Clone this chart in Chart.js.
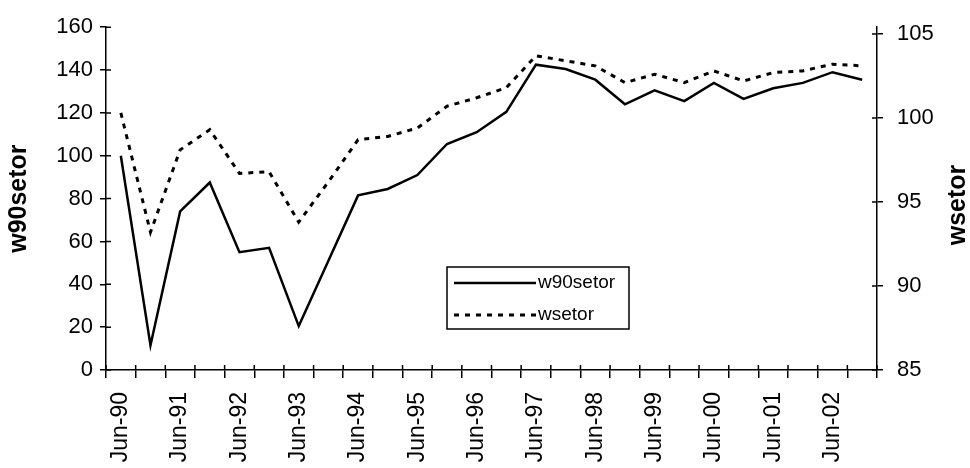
<!DOCTYPE html>
<html>
<head>
<meta charset="utf-8">
<script src="https://cdn.jsdelivr.net/npm/chart.js@4.4.1/dist/chart.umd.min.js"></script>
<style>
    body { margin: 0; background: #fff; }
    #wrap { width: 970px; height: 468px; }
</style>
</head>
<body>
<div id="wrap"><canvas id="setorChart" width="970" height="468"></canvas></div>
<script>
// half-yearly observations, Jun-90 .. Dec-02
const categories = [
    "Jun-90", "Dec-90", "Jun-91", "Dec-91", "Jun-92", "Dec-92", "Jun-93", "Dec-93",
    "Jun-94", "Dec-94", "Jun-95", "Dec-95", "Jun-96", "Dec-96", "Jun-97", "Dec-97",
    "Jun-98", "Dec-98", "Jun-99", "Dec-99", "Jun-00", "Dec-00", "Jun-01", "Dec-01",
    "Jun-02", "Dec-02"
];
const w90setor = [100, 11.5, 74, 87.5, 55, 57, 20.5, 51, 81.5, 84.5, 91, 105.5, 111,
    120.5, 142.5, 140.5, 135.5, 124, 130.5, 125.5, 134, 126.5, 131.5, 134, 139, 135.5];
const wsetor = [100.3, 93.2, 98.1, 99.3, 96.7, 96.8, 93.8, 96.2, 98.7, 98.9, 99.4, 100.7,
    101.2, 101.8, 103.7, 103.4, 103.1, 102.1, 102.6, 102.1, 102.8, 102.2, 102.7, 102.8,
    103.2, 103.1];

const leftMin = 0, leftMax = 160, leftStep = 20;
const rightMin = 85, rightMax = 105.4, rightStep = 5;

const FONT = "'Liberation Sans', Arial, sans-serif";

// Excel style cross ticks: Chart.js draws the outer half, this adds the inner half
const crossTicks = {
    id: 'crossTicks',
    afterDraw(chart) {
        const ctx = chart.ctx;
        const xs = chart.scales.x, yl = chart.scales.y, yr = chart.scales.y1;
        ctx.save();
        ctx.strokeStyle = '#000';
        ctx.lineWidth = 1.5;
        ctx.beginPath();
        yl.ticks.forEach(t => {
            const py = yl.getPixelForValue(t.value);
            ctx.moveTo(yl.right, py);
            ctx.lineTo(yl.right + 5, py);
        });
        yr.ticks.forEach(t => {
            const py = yr.getPixelForValue(t.value);
            ctx.moveTo(yr.left - 5, py);
            ctx.lineTo(yr.left, py);
        });
        const n = categories.length;
        const step = (xs.right - xs.left) / n;
        for (let i = 0; i <= n; i++) {
            const px = xs.left + i * step;
            ctx.moveTo(px, xs.top - 5);
            ctx.lineTo(px, xs.top);
        }
        ctx.stroke();
        ctx.restore();
    }
};

// boxed legend sitting inside the plot + right axis title reading upwards
const boxLegend = {
    id: 'boxLegend',
    afterDraw(chart) {
        const ctx = chart.ctx;
        ctx.save();
        ctx.strokeStyle = '#000';
        ctx.lineWidth = 1.5;
        ctx.strokeRect(447, 267, 182, 62);

        chart.data.datasets.forEach((ds, i) => {
            const y = 283 + i * 32;
            ctx.beginPath();
            ctx.lineWidth = ds.borderWidth;
            ctx.setLineDash(ds.borderDash || []);
            ctx.moveTo(454, y);
            ctx.lineTo(536, y);
            ctx.stroke();
            ctx.setLineDash([]);
            ctx.fillStyle = '#000';
            ctx.font = "19px " + FONT;
            ctx.textBaseline = 'middle';
            ctx.textAlign = 'left';
            ctx.fillText(ds.label, 538, y);
        });

        ctx.translate(958, 205);
        ctx.rotate(-Math.PI / 2);
        ctx.font = "bold 25px " + FONT;
        ctx.textAlign = 'center';
        ctx.textBaseline = 'middle';
        ctx.fillText('wsetor', 0, 0);
        ctx.restore();
    }
};

const ctx = document.getElementById('setorChart').getContext('2d');
const setorChart = new Chart(ctx, {
    type: 'line',
    data: {
        labels: categories,
        datasets: [{
            label: 'w90setor',
            data: w90setor,
            yAxisID: 'y',
            borderColor: '#000',
            borderWidth: 2.5,
            pointRadius: 0,
            tension: 0,
            fill: false
        }, {
            label: 'wsetor',
            data: wsetor,
            yAxisID: 'y1',
            borderColor: '#000',
            borderWidth: 3,
            borderDash: [5, 6],
            pointRadius: 0,
            tension: 0,
            fill: false
        }]
    },
    options: {
        responsive: false,
        animation: false,
        layout: { padding: { top: 24, left: 0, right: 0, bottom: 0 } },
        plugins: {
            legend: { display: false },
            tooltip: { enabled: false }
        },
        scales: {
            x: {
                offset: true,
                grid: { offset: true, drawOnChartArea: false, color: '#000', lineWidth: 1.5, tickLength: 8 },
                border: { color: '#000', width: 1.5 },
                ticks: {
                    autoSkip: false,
                    maxRotation: 90,
                    minRotation: 90,
                    padding: 14,
                    color: '#000',
                    font: { family: FONT, size: 23 },
                    callback: (val, i) => (i % 2 === 0 ? categories[i] : '')
                },
                afterFit: scale => { scale.height = 98; }
            },
            y: {
                position: 'left',
                min: leftMin,
                max: leftMax,
                grid: { drawOnChartArea: false, color: '#000', lineWidth: 1.5, tickLength: 6 },
                border: { color: '#000', width: 1.5 },
                ticks: {
                    stepSize: leftStep,
                    padding: 7,
                    color: '#000',
                    font: { family: FONT, size: 22 }
                },
                title: {
                    display: true,
                    text: 'w90setor',
                    color: '#000',
                    font: { family: FONT, size: 25, weight: 'bold' },
                    padding: { top: 4, bottom: 0 }
                },
                afterFit: scale => { scale.width = 106; }
            },
            y1: {
                position: 'right',
                min: rightMin,
                max: rightMax,
                grid: { drawOnChartArea: false, color: '#000', lineWidth: 1.5, tickLength: 6 },
                border: { color: '#000', width: 1.5 },
                ticks: {
                    stepSize: rightStep,
                    includeBounds: false,
                    padding: 14,
                    color: '#000',
                    font: { family: FONT, size: 22 }
                },
                afterFit: scale => { scale.width = 93; }
            }
        }
    },
    plugins: [crossTicks, boxLegend]
});
</script>
</body>
</html>
